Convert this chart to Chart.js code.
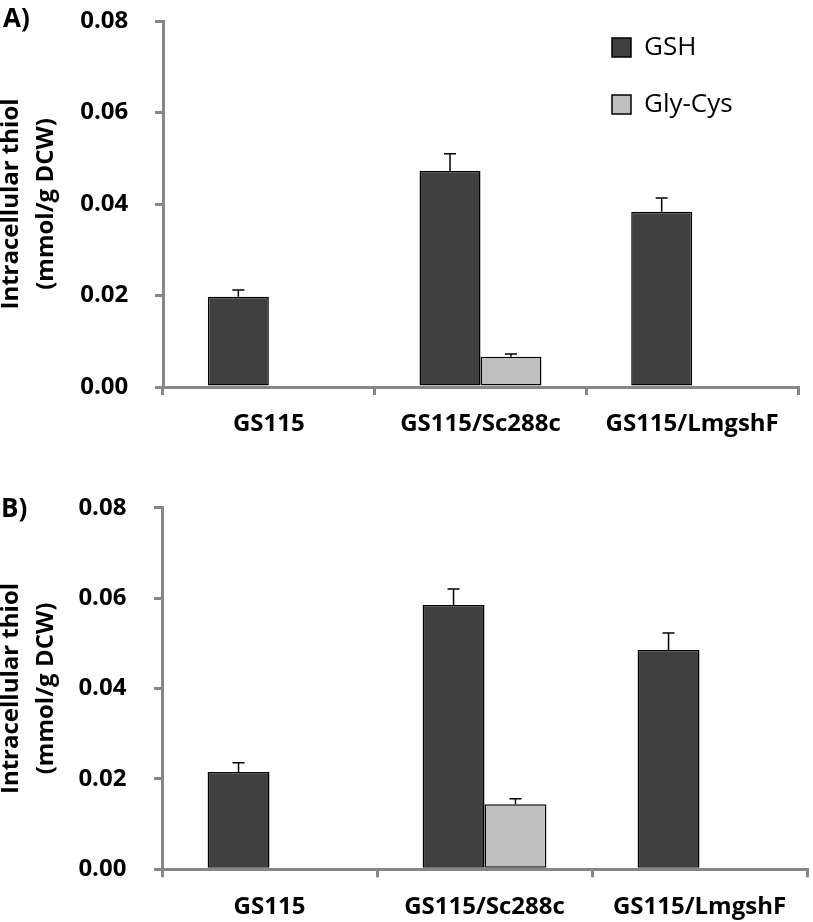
<!DOCTYPE html>
<html>
<head>
<meta charset="utf-8">
<script src="https://cdn.jsdelivr.net/npm/chart.js@4.4.1/dist/chart.umd.min.js"></script>
<style>
  html, body { margin: 0; padding: 0; background: #ffffff; }
  body { width: 813px; height: 922px; position: relative; overflow: hidden; }
  .panel { position: absolute; left: 0; width: 813px; }
  #pa { top: 0; height: 460px; }
  #pb { top: 460px; height: 462px; }
</style>
</head>
<body>
<div class="panel" id="pa"><canvas id="ca"></canvas></div>
<div class="panel" id="pb"><canvas id="cb"></canvas></div>
<script>
// ---- data ----
const categories = ['GS115', 'GS115/Sc288c', 'GS115/LmgshF'];
const seriesNames = ['GSH', 'Gly-Cys'];
const yTickValues = [0, 0.02, 0.04, 0.06, 0.08];
const panelLabels = ['A)', 'B)'];
const yTitleLines = ['Intracellular thiol', '(mmol/g DCW)'];

// Panel A
const gshA = [0.0197, 0.0472, 0.0383];
const gshAErr = [0.0015, 0.0038, 0.0030];
const glyCysA = [null, 0.0066, null];
const glyCysAErr = [null, 0.0006, null];

// Panel B
const gshB = [0.0215, 0.0585, 0.0485];
const gshBErr = [0.0021, 0.0035, 0.0038];
const glyCysB = [null, 0.0144, null];
const glyCysBErr = [null, 0.0012, null];

// ---- styling ----
const FONT = "'Open Sans', 'Liberation Sans', sans-serif";
const AXIS_GREY = '#878787';
const GSH_FILL = '#404040';
const GLY_FILL = '#bfbfbf';

Chart.defaults.font.family = FONT;
Chart.defaults.color = '#000';

const errorBarPlugin = {
  id: 'errorBars',
  afterDatasetsDraw(chart) {
    const ctx = chart.ctx;
    const yScale = chart.scales.y;
    chart.data.datasets.forEach((ds, di) => {
      if (!ds.errorValues) return;
      const meta = chart.getDatasetMeta(di);
      meta.data.forEach((bar, i) => {
        const v = ds.data[i];
        const e = ds.errorValues[i];
        if (v == null || e == null) return;
        const yVal = yScale.getPixelForValue(v);
        const yTop = yScale.getPixelForValue(v + e);
        ctx.save();
        ctx.strokeStyle = '#000';
        ctx.lineWidth = 1.5;
        ctx.beginPath();
        ctx.moveTo(bar.x, yVal);
        ctx.lineTo(bar.x, yTop);
        ctx.moveTo(bar.x - 6, yTop);
        ctx.lineTo(bar.x + 6, yTop);
        ctx.stroke();
        ctx.restore();
      });
    });
  }
};

const legendPlacePlugin = {
  id: 'legendPlace',
  afterLayout(chart, args, opts) {
    const lg = chart.legend;
    if (!lg || opts.left == null) return;
    const w = lg.width, h = lg.height;
    lg.left = opts.left; lg.top = opts.top;
    lg.right = lg.left + w; lg.bottom = lg.top + h;
  }
};

const panelLabelPlugin = {
  id: 'panelLabel',
  afterDraw(chart, args, opts) {
    const c = chart.ctx;
    c.save();
    c.font = 'bold 26px ' + FONT;
    c.fillStyle = '#000';
    c.textBaseline = 'alphabetic';
    c.textAlign = 'left';
    c.fillText(opts.text, opts.x, opts.y);
    c.restore();
  }
};

function makeChart(canvasId, gsh, gshErr, gly, glyErr, lay) {
  return new Chart(document.getElementById(canvasId), {
    type: 'bar',
    data: {
      labels: categories,
      datasets: [
        {
          label: seriesNames[0], data: gsh, errorValues: gshErr,
          backgroundColor: GSH_FILL, borderColor: '#000', borderWidth: 1.5,
          borderSkipped: false, categoryPercentage: 0.576, barPercentage: 1.0
        },
        {
          label: seriesNames[1], data: gly, errorValues: glyErr,
          backgroundColor: GLY_FILL, borderColor: '#000', borderWidth: 1.5,
          borderSkipped: false, categoryPercentage: 0.576, barPercentage: 1.0
        }
      ]
    },
    options: {
      responsive: true,
      maintainAspectRatio: false,
      animation: false,
      layout: { padding: { top: lay.top, right: lay.right, left: 0, bottom: 0 } },
      plugins: {
        tooltip: { enabled: false },
        legend: {
          display: lay.legend,
          position: 'chartArea',
          fullSize: false,
          align: 'start',
          labels: {
            boxWidth: 19, boxHeight: 19, padding: 31, color: '#000',
            font: { family: FONT, size: 26, weight: 'normal' }
          }
        },
        legendPlace: lay.legend ? { left: 612 - 31, top: 34.5 - 31 } : {},
        panelLabel: { text: lay.label, x: lay.labelX, y: lay.labelY }
      },
      scales: {
        x: {
          offset: true,
          grid: {
            offset: true, drawOnChartArea: false, drawTicks: true,
            tickLength: 8, color: AXIS_GREY, lineWidth: 3
          },
          border: { display: true, color: AXIS_GREY, width: 3 },
          ticks: {
            autoSkip: false, maxRotation: 0, minRotation: 0, padding: 15,
            color: '#000', font: { family: FONT, size: 24, weight: 'bold' }
          },
          afterFit(scale) { scale.height = lay.xAxisHeight; }
        },
        y: {
          min: 0, max: 0.08,
          afterBuildTicks(scale) { scale.ticks = yTickValues.map(v => ({ value: v })); },
          grid: {
            drawOnChartArea: false, drawTicks: true, tickLength: 8,
            color: AXIS_GREY, lineWidth: 3
          },
          border: { display: true, color: AXIS_GREY, width: 3 },
          ticks: {
            padding: lay.yTickPad, color: '#000',
            font: { family: FONT, size: 24, weight: 'bold' },
            callback: (v) => Number(v).toFixed(2)
          },
          title: {
            display: true, text: yTitleLines, color: '#000',
            font: { family: FONT, size: 24, weight: 'bold', lineHeight: 1.467 },
            padding: { top: -6.2, bottom: 0 }
          },
          afterFit(scale) {
            scale.width = lay.yAxisWidth;
            scale.paddingTop = 14;
            scale.paddingBottom = 14;
          }
        }
      }
    },
    plugins: [errorBarPlugin, legendPlacePlugin, panelLabelPlugin]
  });
}

makeChart('ca', gshA, gshAErr, glyCysA, glyCysAErr, {
  top: 21, right: 15, xAxisHeight: 73, yAxisWidth: 163, yTickPad: 26.7,
  legend: true, label: panelLabels[0], labelX: 3, labelY: 27
});
makeChart('cb', gshB, gshBErr, glyCysB, glyCysBErr, {
  top: 47.7, right: 6, xAxisHeight: 52.7, yAxisWidth: 162, yTickPad: 27.6,
  legend: false, label: panelLabels[1], labelX: 1, labelY: 56.7
});
</script>
</body>
</html>
